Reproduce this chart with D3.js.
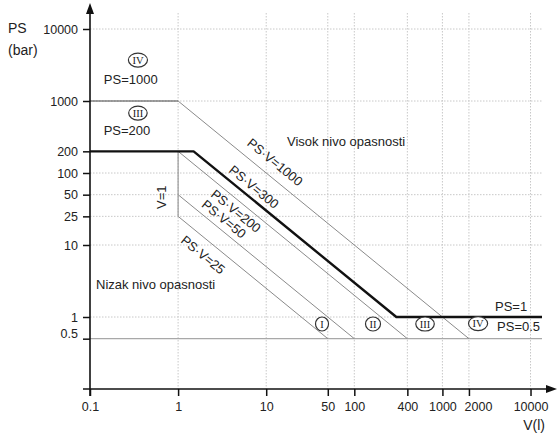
<!DOCTYPE html>
<html>
<head>
<meta charset="utf-8">
<script src="https://cdn.jsdelivr.net/npm/d3@7"></script>
<style>
  html, body { margin: 0; padding: 0; background: #fff; }
  svg { display: block; font-family: "Liberation Sans", Arial, sans-serif; }
</style>
</head>
<body>
<svg id="chart" width="557" height="439"></svg>
<script>
// Axis ticks
const xTicks = [0.1, 1, 10, 50, 100, 400, 1000, 2000, 10000];
const yTicks = [10000, 1000, 200, 100, 50, 25, 10, 1, 0.5];
const xGrid = [1, 10, 50, 100, 400, 1000, 2000, 10000];
const yGrid = [10000, 1000, 100, 50, 25, 10, 1];

// Category boundaries as [V, PS] points
const vMax = 13500;
const psLimit1000 = [[0.1, 1000], [1, 1000]];
const psV1000 = [[1, 1000], [2000, 0.5]];
const psV200 = [[1, 200], [400, 0.5]];
const psV50 = [[1, 50], [100, 0.5]];
const psV25 = [[1, 25], [50, 0.5]];
const vEq1 = [[1, 200], [1, 25]];
const psHalf = [[0.1, 0.5], [vMax, 0.5]];
const boundary = [[0.1, 200], [1.5, 200], [300, 1], [vMax, 1]];

// Category marks (V, PS anchor)
const categories = [
  { n: "IV", v: 0.35, ps: 3700 },
  { n: "III", v: 0.35, ps: 680 },
  { n: "I", v: 43, ps: 0.8 },
  { n: "II", v: 163, ps: 0.8 },
  { n: "III", v: 635, ps: 0.8 },
  { n: "IV", v: 2540, ps: 0.81 }
];

// Plain text notes (V, PS anchor)
const notes = [
  { t: "PS=1000", v: 0.29, ps: 2000, anchor: "middle" },
  { t: "PS=200", v: 0.263, ps: 395, anchor: "middle" },
  { t: "Visok nivo opasnosti", v: 17.2, ps: 278, anchor: "start" },
  { t: "Nizak nivo opasnosti", v: 0.117, ps: 2.8, anchor: "start" },
  { t: "PS=1", v: 3950, ps: 1.38, anchor: "start" },
  { t: "PS=0.5", v: 4170, ps: 0.75, anchor: "start" }
];

// Labels written along the diagonal lines (centre anchor)
const lineLabels = [
  { t: "PS·V=1000", v: 12.6, ps: 142 },
  { t: "PS·V=300", v: 7.27, ps: 64 },
  { t: "PS·V=200", v: 4.54, ps: 29.7 },
  { t: "PS·V=50", v: 3.32, ps: 23 },
  { t: "PS·V=25", v: 1.92, ps: 7.3 }
];

const svg = d3.select("#chart");
const x = d3.scaleLog().domain([0.1, vMax]).range([90, 542]);
const y = d3.scaleLog().domain([0.1, 10000]).range([389, 29]);
const gridTop = 13;

// Dotted grid
const grid = svg.append("g").attr("stroke", "#c8c8c8").attr("stroke-width", 1)
  .attr("stroke-dasharray", "1.5,1.5");
grid.selectAll("line.v").data(xGrid).join("line").attr("class", "v")
  .attr("x1", d => x(d)).attr("x2", d => x(d))
  .attr("y1", gridTop).attr("y2", y(0.1));
grid.selectAll("line.h").data(yGrid).join("line").attr("class", "h")
  .attr("x1", x(0.1)).attr("x2", x(vMax))
  .attr("y1", d => y(d)).attr("y2", d => y(d));

const line = d3.line().x(d => x(d[0])).y(d => y(d[1]));

// Thin category boundaries
const thin = [
  { d: psHalf, c: "#a8a8a8", w: 1.4 },
  { d: psV1000, c: "#8a8a8a", w: 1 },
  { d: psV200, c: "#8a8a8a", w: 1 },
  { d: psV50, c: "#8a8a8a", w: 1 },
  { d: psV25, c: "#8a8a8a", w: 1 },
  { d: vEq1, c: "#999", w: 1.2 },
  { d: psLimit1000, c: "#444", w: 1 }
];
svg.append("g").selectAll("path").data(thin).join("path")
  .attr("d", d => line(d.d)).attr("fill", "none")
  .attr("stroke", d => d.c).attr("stroke-width", d => d.w);

// Heavy boundary PS·V=300
svg.append("path").attr("d", line(boundary)).attr("fill", "none")
  .attr("stroke", "#111").attr("stroke-width", 2.4).attr("stroke-linejoin", "round");

// Axes
const yAxis = d3.axisLeft(y).tickValues(yTicks).tickSize(7).tickPadding(5)
  .tickFormat(d => String(d));
const gy = svg.append("g").attr("transform", `translate(${x(0.1)},0)`).call(yAxis);
gy.select(".domain").remove();
gy.selectAll(".tick line").attr("stroke", "#111").attr("stroke-width", 1.5);
gy.selectAll(".tick text").attr("font-size", 12.5).attr("fill", "#222")
  .attr("font-family", "'Liberation Sans', Arial, sans-serif");
gy.selectAll(".tick").filter(d => d === 0.5).select("text").attr("dy", "-0.1em");

const xAxis = d3.axisBottom(x).tickValues(xTicks).tickSize(7).tickPadding(6)
  .tickFormat(d => String(d));
const gx = svg.append("g").attr("transform", `translate(0,${y(0.1)})`).call(xAxis);
gx.select(".domain").remove();
gx.selectAll(".tick line").attr("stroke", "#111").attr("stroke-width", 1.5);
gx.selectAll(".tick text").attr("font-size", 12.5).attr("fill", "#222")
  .attr("font-family", "'Liberation Sans', Arial, sans-serif");
// keep the crowded 2000 label clear of 1000
gx.selectAll(".tick").filter(d => d === 2000).select("text").attr("dx", 9);

// Axis lines with arrows
const ax = svg.append("g").attr("stroke", "#111").attr("stroke-width", 1.6);
ax.append("line").attr("x1", x(0.1)).attr("x2", x(0.1)).attr("y1", y(0.1) + 7).attr("y2", 10);
ax.append("line").attr("x1", x(0.1) - 7).attr("x2", 550).attr("y1", y(0.1)).attr("y2", y(0.1));
svg.append("path").attr("fill", "#111")
  .attr("d", `M${x(0.1)},3 L${x(0.1) - 4},14 L${x(0.1) + 4},14 Z`);
svg.append("path").attr("fill", "#111")
  .attr("d", `M557,${y(0.1)} L546,${y(0.1) - 4} L546,${y(0.1) + 4} Z`);

// Axis titles
svg.append("text").attr("x", 8).attr("y", 33).attr("font-size", 14).attr("fill", "#222").text("PS");
svg.append("text").attr("x", 8).attr("y", 55).attr("font-size", 14).attr("fill", "#222").text("(bar)");
svg.append("text").attr("x", 545).attr("y", 430).attr("text-anchor", "end")
  .attr("font-size", 14).attr("fill", "#222").text("V(l)");

// V=1 label
svg.append("text").attr("transform", `translate(${x(0.64)},${y(46)}) rotate(-90)`)
  .attr("text-anchor", "middle").attr("dy", "0.35em")
  .attr("font-size", 13).attr("fill", "#222").text("V=1");

// Notes
svg.append("g").selectAll("text").data(notes).join("text")
  .attr("x", d => x(d.v)).attr("y", d => y(d.ps)).attr("dy", "0.35em")
  .attr("text-anchor", d => d.anchor).attr("font-size", 13).attr("fill", "#222")
  .text(d => d.t);

// Diagonal labels, rotated to the slope of a PS·V = const line
const slope = Math.atan2(y(1) - y(10), x(10) - x(1)) * 180 / Math.PI;
svg.append("g").selectAll("text").data(lineLabels).join("text")
  .attr("transform", d => `translate(${x(d.v)},${y(d.ps)}) rotate(${slope})`)
  .attr("text-anchor", "middle").attr("dy", "0.35em")
  .attr("font-size", 13).attr("fill", "#222").text(d => d.t);

// Circled category numerals
const cg = svg.append("g").selectAll("g").data(categories).join("g")
  .attr("transform", d => `translate(${x(d.v)},${y(d.ps)})`);
cg.append("text").attr("text-anchor", "middle").attr("dy", "0.36em")
  .attr("font-family", "'Liberation Serif', 'DejaVu Serif', serif")
  .attr("font-size", 10.5).attr("fill", "#222").text(d => d.n);
cg.each(function () {
  const g = d3.select(this);
  const w = g.select("text").node().getComputedTextLength();
  g.insert("ellipse", "text").attr("rx", Math.max(6.5, w / 2 + 4)).attr("ry", 7)
    .attr("fill", "#fff").attr("stroke", "#333").attr("stroke-width", 1.2);
});
</script>
</body>
</html>
